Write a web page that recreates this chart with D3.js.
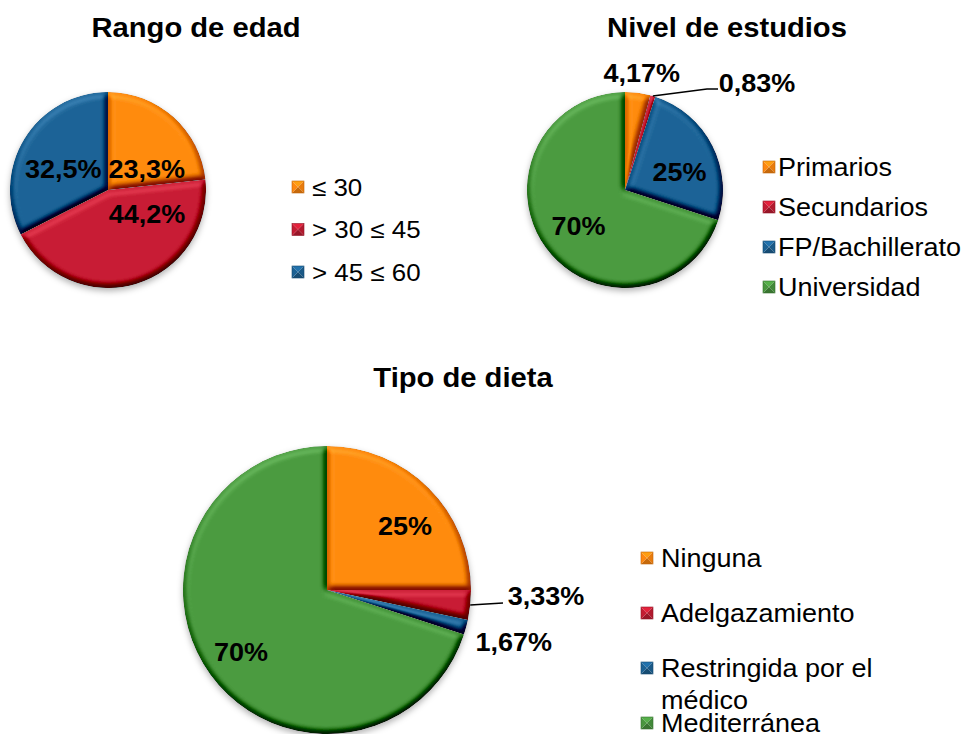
<!DOCTYPE html>
<html>
<head>
<meta charset="utf-8">
<script src="https://cdn.jsdelivr.net/npm/d3@7"></script>
<style>
  html, body { margin: 0; padding: 0; background: #ffffff; }
  svg { display: block; font-family: "Liberation Sans", Arial, sans-serif; }
</style>
</head>
<body>
<script>
// ---- Data ----
const edadTitulo = "Rango de edad";
const edadCategorias = ["≤ 30", "> 30 ≤ 45", "> 45 ≤ 60"];
const edadValores = [23.3, 44.2, 32.5];

const estudiosTitulo = "Nivel de estudios";
const estudiosCategorias = ["Primarios", "Secundarios", "FP/Bachillerato", "Universidad"];
const estudiosValores = [4.17, 0.83, 25, 70];

const dietaTitulo = "Tipo de dieta";
const dietaCategorias = ["Ninguna", "Adelgazamiento", "Restringida por el médico", "Mediterránea"];
const dietaValores = [25, 3.33, 1.67, 70];

const paleta = ["#F5820E", "#BC1B31", "#1B5E8E", "#46913C"];

// ---- Layout ----
const W = 963, H = 734;
const SX = 1.08; // slightly wide lettering

const charts = [
  {
    id: "edad", title: edadTitulo, cats: edadCategorias, vals: edadValores,
    titlePos: [196, 37],
    cx: 108, cy: 190, r: 98,
    // label placement: radius factor along the slice bisector + nudge
    labels: [
      { k: 0.5, dx: 6, dy: 15 },
      { k: 0.5, dx: 25, dy: -23 },
      { k: 0.5, dx: -3, dy: 5 }
    ],
    legend: { x: 292, textX: 312, y0: 187, step: 42.5, size: 12, font: 24, wrap: 400 }
  },
  {
    id: "estudios", title: estudiosTitulo, cats: estudiosCategorias, vals: estudiosValores,
    titlePos: [727, 37],
    cx: 625, cy: 190, r: 98,
    labels: [
      { k: 1.15, dx: 2, dy: -5 },
      { leader: [[707, 89], [718, 89]], at: [757, 83] },
      { k: 0.6, dx: 2, dy: 9 },
      { k: 0.6, dx: 1, dy: 1 }
    ],
    legend: { x: 763, textX: 778, y0: 167, step: 40, size: 12, font: 25, wrap: 400 }
  },
  {
    id: "dieta", title: dietaTitulo, cats: dietaCategorias, vals: dietaValores,
    titlePos: [463, 387],
    cx: 327, cy: 590, r: 144,
    labels: [
      { k: 0.6, dx: 17, dy: -3 },
      { leader: [[503, 603]], at: [546, 596] },
      { k: 1.35, dx: -1, dy: 2 },
      { k: 0.6, dx: -16, dy: 11 }
    ],
    legend: { x: 641, textX: 661, y0: 558, step: 55, size: 12, font: 25, wrap: 210, lineH: 32 }
  }
];

const fmt = v => String(v).replace(".", ",") + "%";

const svg = d3.select("body").append("svg")
  .attr("width", W).attr("height", H)
  .attr("viewBox", `0 0 ${W} ${H}`);

const defs = svg.append("defs");

// Soft bevel: light the blurred slice alpha from above and add it to the fill
const bevel = defs.append("filter").attr("id", "bevel")
  .attr("x", "-5%").attr("y", "-5%").attr("width", "110%").attr("height", "110%")
  .attr("color-interpolation-filters", "sRGB");
bevel.append("feGaussianBlur").attr("in", "SourceAlpha").attr("stdDeviation", 3.2).attr("result", "blur");
const diff = bevel.append("feDiffuseLighting").attr("in", "blur")
  .attr("surfaceScale", 5).attr("diffuseConstant", 1)
  .attr("lighting-color", "#ffffff").attr("result", "light");
diff.append("feDistantLight").attr("azimuth", 250).attr("elevation", 62);
bevel.append("feComposite").attr("in", "SourceGraphic").attr("in2", "light")
  .attr("operator", "arithmetic")
  .attr("k1", 0).attr("k2", 1).attr("k3", 0.75).attr("k4", -0.66).attr("result", "lit");
bevel.append("feComposite").attr("in", "lit").attr("in2", "SourceAlpha").attr("operator", "in");

// Soft shadow beneath each pie
const shadow = defs.append("filter").attr("id", "pieShadow")
  .attr("x", "-20%").attr("y", "-20%").attr("width", "140%").attr("height", "140%");
shadow.append("feDropShadow").attr("dx", 0).attr("dy", 3).attr("stdDeviation", 3)
  .attr("flood-color", "#000").attr("flood-opacity", 0.3);

const pie = d3.pie().sort(null).value(d => d);

// text anchored at (x, y), widened horizontally about its anchor
function addText(parent, x, y, str, opts) {
  const holder = parent.append("g").attr("transform", `translate(${x},${y}) scale(${SX},1)`);
  const t = holder.append("text")
    .attr("x", 0).attr("y", 0)
    .attr("text-anchor", opts.anchor || "start")
    .attr("font-weight", opts.bold ? "bold" : "normal")
    .attr("font-size", opts.size)
    .attr("fill", "#000");
  if (opts.dy) t.attr("dy", opts.dy);
  if (str !== null) t.text(str);
  return t;
}

charts.forEach(c => {
  const g = svg.append("g").attr("class", "chart-" + c.id);

  // vertical shading per colour, spanning this pie
  paleta.forEach((col, i) => {
    const grad = defs.append("linearGradient")
      .attr("id", `g-${c.id}-${i}`)
      .attr("gradientUnits", "userSpaceOnUse")
      .attr("x1", 0).attr("x2", 0)
      .attr("y1", c.cy - c.r).attr("y2", c.cy + c.r);
    grad.append("stop").attr("offset", 0).attr("stop-color", d3.color(col).brighter(0.18));
    grad.append("stop").attr("offset", 1).attr("stop-color", d3.color(col).darker(0.2));
  });

  // title
  addText(g, c.titlePos[0], c.titlePos[1], c.title, { anchor: "middle", bold: true, size: 27 });

  const arcs = pie(c.vals);
  const arc = d3.arc().innerRadius(0).outerRadius(c.r);

  const pg = g.append("g")
    .attr("transform", `translate(${c.cx},${c.cy})`)
    .attr("filter", "url(#pieShadow)");

  pg.selectAll("path.slice").data(arcs).join("path")
    .attr("class", "slice")
    .attr("d", arc)
    .attr("fill", (d, i) => `url(#g-${c.id}-${i})`)
    .attr("filter", "url(#bevel)");

  // data labels
  arcs.forEach((d, i) => {
    const L = c.labels[i];
    const mid = (d.startAngle + d.endAngle) / 2;
    let x, y;
    if (L.leader) {
      const ex = c.cx + c.r * Math.sin(mid);
      const ey = c.cy - c.r * Math.cos(mid);
      const pts = [[ex, ey]].concat(L.leader);
      g.append("path")
        .attr("d", d3.line()(pts))
        .attr("fill", "none")
        .attr("stroke", "#000")
        .attr("stroke-width", 1.6);
      [x, y] = L.at;
    } else {
      x = c.cx + c.r * L.k * Math.sin(mid) + L.dx;
      y = c.cy - c.r * L.k * Math.cos(mid) + L.dy;
    }
    addText(g, x, y, fmt(c.vals[i]), { anchor: "middle", bold: true, size: 25, dy: "0.36em" });
  });

  // legend
  const lg = c.legend;
  c.cats.forEach((name, i) => {
    const cy = lg.y0 + i * lg.step;
    const s = lg.size;
    const x0 = lg.x, y0 = cy - s / 2;
    const col = d3.color(paleta[i]);
    const m = g.append("g").attr("transform", `translate(${x0},${y0})`);
    const cc = [s / 2, s / 2];
    const tris = [
      { p: [[0, 0], [s, 0], cc], f: col.brighter(0.55) },
      { p: [[s, 0], [s, s], cc], f: col.darker(0.15) },
      { p: [[0, s], [s, s], cc], f: col.darker(0.6) },
      { p: [[0, 0], [0, s], cc], f: col.brighter(0.1) }
    ];
    tris.forEach(t => m.append("path")
      .attr("d", d3.line()(t.p) + "Z")
      .attr("fill", t.f));
    m.append("rect").attr("width", s).attr("height", s)
      .attr("fill", "none").attr("stroke", col.darker(0.7)).attr("stroke-width", 0.6);

    const t = addText(g, lg.textX, cy, null, { size: lg.font, dy: "0.36em" });
    // simple word wrap
    const words = name.split(" ");
    let line = [];
    let ts = t.append("tspan").attr("x", 0);
    words.forEach(w => {
      line.push(w);
      ts.text(line.join(" "));
      if (ts.node().getComputedTextLength() > lg.wrap && line.length > 1) {
        line.pop();
        ts.text(line.join(" "));
        line = [w];
        ts = t.append("tspan").attr("x", 0).attr("dy", lg.lineH).text(w);
      }
    });
  });
});
</script>
</body>
</html>
